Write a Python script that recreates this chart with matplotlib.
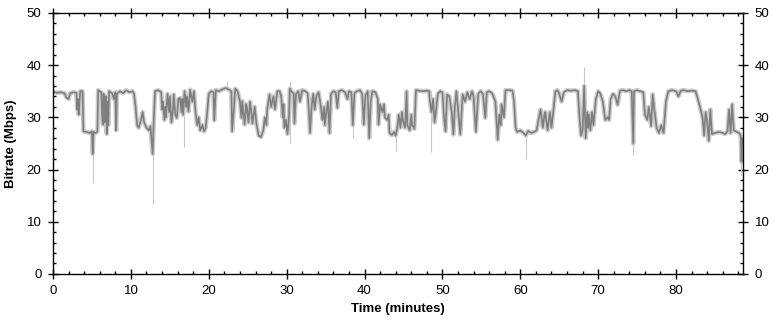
import matplotlib
matplotlib.use("Agg")
import matplotlib.pyplot as plt
from matplotlib.ticker import MultipleLocator

plt.rcParams['font.family'] = ['Liberation Sans', 'DejaVu Sans']

# bitrate trace: time (minutes), Mbps
trace = [
    (0.0, 34.9), (0.5, 34.7), (1.0, 34.8), (1.5, 34.6), (1.7, 33.8), (2.0, 33.5),
    (2.2, 34.6), (2.6, 34.8), (3.0, 34.7), (3.1, 31.5), (3.2, 33.5), (3.3, 30.5),
    (3.4, 33.0), (3.5, 35.0), (3.8, 35.0), (3.9, 27.3), (4.3, 27.2), (4.7, 27.0),
    (5.0, 27.3), (5.1, 23.0), (5.2, 27.2), (5.5, 27.0), (5.7, 27.3), (5.8, 35.2),
    (6.2, 34.8), (6.3, 30.5), (6.4, 28.6), (6.5, 34.5), (6.6, 29.0), (6.7, 30.0),
    (6.8, 34.0), (6.9, 26.8), (7.0, 33.0), (7.1, 28.5), (7.2, 35.0), (7.6, 34.6),
    (7.8, 33.5), (8.0, 34.8), (8.1, 27.5), (8.2, 34.5), (8.6, 35.0), (9.0, 34.6),
    (9.4, 35.2), (9.8, 34.8), (10.2, 35.0), (10.4, 34.5), (10.6, 32.0), (10.8, 28.5),
    (11.0, 28.0), (11.3, 29.5), (11.5, 31.0), (11.7, 29.0), (12.0, 28.0), (12.3, 27.5),
    (12.5, 28.3), (12.8, 23.0), (12.9, 28.0), (13.1, 35.0), (13.5, 35.2), (13.9, 34.8),
    (14.0, 31.5), (14.1, 33.0), (14.3, 29.5), (14.4, 32.0), (14.5, 30.0), (14.7, 34.5),
    (14.9, 31.0), (15.0, 34.0), (15.2, 29.0), (15.4, 31.5), (15.5, 34.4), (15.7, 30.5),
    (15.9, 29.9), (16.1, 33.5), (16.3, 33.7), (16.5, 31.0), (16.6, 33.5), (16.7, 30.5),
    (16.9, 35.0), (17.1, 32.0), (17.2, 34.0), (17.4, 31.1), (17.6, 35.3), (17.9, 33.0),
    (18.1, 35.0), (18.3, 31.0), (18.5, 28.5), (18.7, 30.0), (18.9, 27.5), (19.2, 28.5),
    (19.4, 27.3), (19.6, 28.0), (19.8, 31.0), (20.0, 34.5), (20.3, 35.0), (20.6, 34.8),
    (20.7, 29.4), (20.9, 35.2), (21.3, 35.0), (21.8, 35.4), (22.2, 35.6), (22.6, 35.3),
    (22.9, 35.0), (23.0, 27.3), (23.2, 31.0), (23.4, 35.5), (23.7, 35.0), (24.0, 33.0),
    (24.2, 29.9), (24.3, 33.1), (24.5, 30.0), (24.6, 28.6), (24.8, 32.5), (24.9, 31.8),
    (25.1, 29.0), (25.3, 33.0), (25.5, 30.5), (25.6, 28.8), (25.9, 32.0), (26.1, 29.0),
    (26.4, 26.5), (26.7, 26.2), (27.0, 27.5), (27.2, 30.0), (27.4, 28.5), (27.5, 31.5),
    (27.8, 34.4), (28.0, 32.0), (28.3, 34.0), (28.5, 31.5), (28.8, 35.0), (29.1, 35.0),
    (29.3, 34.0), (29.5, 30.0), (29.6, 32.5), (29.7, 28.0), (29.9, 29.5), (30.1, 26.8),
    (30.3, 30.0), (30.4, 35.5), (30.6, 35.0), (30.9, 34.5), (31.0, 28.8), (31.2, 34.5),
    (31.5, 35.0), (31.7, 33.0), (32.0, 35.2), (32.4, 35.0), (32.7, 34.6), (32.9, 30.0),
    (33.0, 27.0), (33.2, 32.0), (33.4, 34.5), (33.6, 31.5), (33.8, 34.0), (34.1, 34.8),
    (34.3, 33.0), (34.6, 29.5), (34.8, 32.0), (34.9, 28.5), (35.1, 31.0), (35.3, 33.0),
    (35.5, 27.0), (35.7, 34.5), (36.0, 35.0), (36.3, 34.8), (36.5, 31.8), (36.7, 35.0),
    (37.1, 35.2), (37.5, 34.8), (37.8, 33.5), (38.0, 35.0), (38.3, 34.8), (38.5, 28.5),
    (38.7, 34.6), (39.0, 35.0), (39.4, 35.2), (39.7, 34.5), (39.9, 28.6), (40.1, 34.0),
    (40.4, 35.0), (40.6, 26.0), (40.8, 33.0), (41.0, 35.0), (41.4, 34.8), (41.7, 33.5),
    (41.8, 28.6), (42.0, 32.5), (42.3, 31.0), (42.5, 32.5), (42.6, 30.0), (42.9, 29.5),
    (43.1, 30.5), (43.2, 27.0), (43.5, 26.6), (43.8, 27.2), (44.0, 26.5), (44.2, 28.0),
    (44.4, 30.5), (44.6, 28.0), (44.8, 31.0), (44.9, 29.5), (45.2, 28.0), (45.4, 35.0),
    (45.5, 28.5), (45.8, 27.5), (46.0, 30.5), (46.1, 28.5), (46.4, 27.8), (46.6, 35.2),
    (47.0, 35.1), (47.5, 35.0), (48.0, 35.1), (48.3, 35.0), (48.4, 33.0), (48.6, 31.0),
    (48.8, 33.5), (49.0, 29.0), (49.2, 31.5), (49.4, 34.5), (49.7, 35.0), (50.0, 34.8),
    (50.2, 30.0), (50.4, 27.3), (50.6, 34.4), (50.9, 34.0), (51.2, 31.0), (51.4, 26.7),
    (51.6, 32.0), (51.8, 35.0), (52.1, 30.0), (52.3, 26.7), (52.6, 34.4), (52.9, 33.0),
    (53.2, 34.8), (53.5, 33.5), (53.8, 35.0), (54.0, 34.0), (54.3, 27.2), (54.6, 34.5),
    (54.9, 35.0), (55.2, 34.5), (55.5, 29.9), (55.7, 34.8), (56.0, 35.0), (56.4, 34.6),
    (56.8, 33.0), (57.1, 25.7), (57.3, 30.5), (57.5, 28.5), (57.6, 32.5), (57.9, 30.0),
    (58.1, 35.2), (58.5, 35.2), (59.0, 35.1), (59.2, 33.0), (59.4, 28.0), (59.6, 27.2),
    (60.0, 27.5), (60.4, 27.0), (60.7, 26.5), (61.0, 27.4), (61.4, 27.0), (61.8, 27.2),
    (62.1, 27.5), (62.4, 30.0), (62.6, 31.5), (62.9, 28.0), (63.1, 30.5), (63.2, 31.0),
    (63.5, 27.5), (63.8, 31.0), (64.0, 28.0), (64.3, 32.0), (64.5, 35.0), (64.8, 35.2),
    (65.0, 34.5), (65.3, 33.0), (65.6, 34.8), (66.0, 35.2), (66.5, 35.1), (67.0, 35.2),
    (67.4, 35.0), (67.6, 30.0), (67.8, 26.5), (68.0, 27.5), (68.2, 36.0), (68.4, 26.0),
    (68.6, 31.0), (68.7, 28.0), (68.8, 30.5), (69.0, 27.5), (69.2, 31.0), (69.4, 28.5),
    (69.7, 33.5), (70.0, 35.0), (70.3, 34.5), (70.6, 33.0), (70.9, 29.5), (71.2, 30.0),
    (71.4, 29.5), (71.6, 33.5), (71.9, 34.5), (72.2, 34.0), (72.5, 32.4), (72.8, 35.1),
    (73.2, 35.2), (73.6, 35.0), (74.0, 35.2), (74.3, 35.0), (74.5, 25.0), (74.6, 35.0),
    (75.0, 35.2), (75.4, 35.0), (75.8, 34.8), (76.0, 30.5), (76.3, 29.5), (76.5, 32.0),
    (76.8, 28.3), (77.0, 34.4), (77.2, 31.5), (77.5, 28.0), (77.8, 27.0), (78.1, 28.5),
    (78.4, 27.0), (78.7, 33.0), (79.0, 35.0), (79.5, 35.2), (80.0, 35.0), (80.3, 34.0),
    (80.6, 35.1), (81.0, 35.2), (81.5, 35.0), (82.0, 35.1), (82.5, 35.0), (82.8, 33.5),
    (83.1, 31.8), (83.4, 30.0), (83.6, 26.5), (83.8, 31.0), (84.0, 29.0), (84.2, 25.5),
    (84.4, 31.5), (84.6, 26.8), (85.0, 27.0), (85.5, 27.2), (86.0, 27.0), (86.3, 26.8),
    (86.6, 27.3), (86.8, 31.5), (87.0, 27.0), (87.2, 32.5), (87.4, 27.5), (87.8, 27.2),
    (88.1, 27.0), (88.3, 26.5), (88.4, 21.5), (88.5, 26.0),
]
times = [p[0] for p in trace]
rates = [p[1] for p in trace]

# single-sample outliers (light gray only)
spike_t = [0.05, 5.1, 12.8, 16.8, 22.4, 30.4, 38.5, 44.1, 48.5, 60.7, 68.2, 74.5, 88.4]
spike_lo = [17.0, 17.5, 13.3, 24.4, 35.0, 25.0, 26.0, 23.5, 23.3, 22.0, 26.0, 22.8, 19.0]
spike_hi = [34.0, 27.0, 27.5, 31.0, 37.0, 37.0, 34.0, 27.0, 35.0, 27.0, 39.6, 35.0, 26.5]

fig = plt.figure(figsize=(7.74, 3.23), dpi=100)
ax = fig.add_axes([0.0685, 0.152, 0.8915, 0.808])

ax.plot(times, rates, color='#cccccc', lw=3.2)
ax.vlines(spike_t, spike_lo, spike_hi, color='#c8c8c8', lw=0.8)
ax.plot(times, rates, color='#7f7f7f', lw=1.2)

ax.set_xlim(0, 88.6)
ax.set_ylim(0, 50)
ax.xaxis.set_major_locator(MultipleLocator(10))
ax.xaxis.set_minor_locator(MultipleLocator(2))
ax.yaxis.set_major_locator(MultipleLocator(10))
ax.yaxis.set_minor_locator(MultipleLocator(2))
ax.tick_params(which='major', direction='inout', length=6.5, width=1,
               top=True, right=True, labelright=True, labelsize=9.5, pad=5)
ax.tick_params(which='minor', direction='in', length=2.5, width=1,
               top=True, right=True)
for s in ax.spines.values():
    s.set_linewidth(1)

ax.set_xlabel("Time (minutes)", fontsize=9.5, fontweight='bold', labelpad=4)
ax.set_ylabel("Bitrate (Mbps)", fontsize=9.5, fontweight='bold', labelpad=7)

fig.savefig('out.png', dpi=100)
